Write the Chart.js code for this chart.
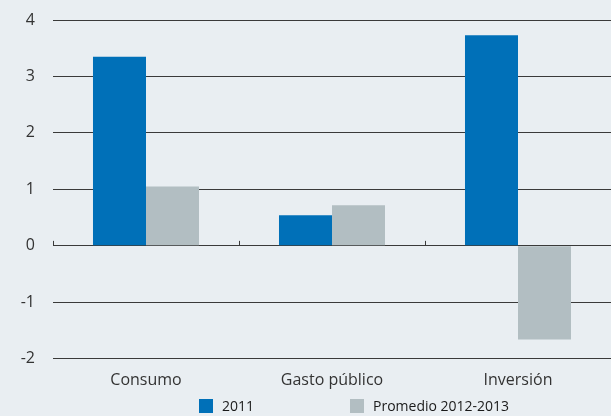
<!DOCTYPE html>
<html><head><meta charset="utf-8">
<script src="https://cdn.jsdelivr.net/npm/chart.js@4.4.0/dist/chart.umd.min.js"></script>
<style>
html,body{margin:0;padding:0;background:#e9eef2;}
#wrap{position:relative;width:611px;height:416px;}
#legend{position:absolute;left:0;top:398px;width:611px;height:16px;font-family:"Open Sans",sans-serif;font-size:14px;color:#1a1a1a;}
.li{position:absolute;top:0;display:flex;align-items:center;height:15px;}
.sw{width:14px;height:14px;margin-right:9px;}
</style></head>
<body><div id="wrap"><canvas id="c" width="611" height="416"></canvas><div id="legend"></div></div>
<script>
const categories = ["Consumo", "Gasto público", "Inversión"];
const seriesNames = ["2011", "Promedio 2012-2013"];
const values2011 = [3.35, 0.54, 3.73];
const valuesPromedio = [1.05, 0.72, -1.66];
const yTicks = [-2, -1, 0, 1, 2, 3, 4];
const colors = ["#0070b8", "#b2bec2"];

const zeroTicks = {
  id: 'zeroTicks',
  afterDatasetsDraw(chart) {
    const x = chart.scales.x, y = chart.scales.y, ctx = chart.ctx;
    const y0 = y.getPixelForValue(0);
    ctx.save();
    ctx.strokeStyle = '#3a3a3a'; ctx.lineWidth = 1;
    for (let i = 0; i <= categories.length; i++) {
      const px = Math.round(x.getPixelForValue(i - 0.5)) + 0.5;
      ctx.beginPath(); ctx.moveTo(px, y0 - 5); ctx.lineTo(px, y0); ctx.stroke();
    }
    ctx.restore();
  }
};

const chart = new Chart(document.getElementById('c'), {
  type: 'bar',
  data: {
    labels: categories,
    datasets: [
      { label: seriesNames[0], data: values2011, backgroundColor: colors[0] },
      { label: seriesNames[1], data: valuesPromedio, backgroundColor: colors[1] }
    ]
  },
  options: {
    responsive: false, animation: false,
    layout: { padding: { top: 20, bottom: 22, right: -2, left: 0 } },
    datasets: { bar: { categoryPercentage: 0.57, barPercentage: 1 } },
    plugins: { legend: { display: false }, tooltip: { enabled: false } },
    scales: {
      x: {
        grid: { display: false }, border: { display: false },
        ticks: { color: '#333', font: { family: 'Open Sans', size: 16 }, padding: 4 }
      },
      y: {
        min: -2, max: 4,
        afterFit(s) { s.width = 53; s.paddingTop = 0; s.paddingBottom = 0; },
        afterBuildTicks(s) { s.ticks = yTicks.map(v => ({ value: v })); },
        grid: { color: '#3a3a3a', lineWidth: 1, drawTicks: false },
        border: { display: false },
        ticks: { color: '#333', font: { family: 'Open Sans', size: 16 }, padding: 18 }
      }
    }
  },
  plugins: [zeroTicks]
});

const leg = document.getElementById('legend');
const lefts = [199, 350];
seriesNames.forEach((n, i) => {
  const d = document.createElement('div'); d.className = 'li'; d.style.left = lefts[i] + 'px';
  d.innerHTML = '<div class="sw" style="background:' + colors[i] + '"></div><span>' + n + '</span>';
  leg.appendChild(d);
});
</script></body></html>
